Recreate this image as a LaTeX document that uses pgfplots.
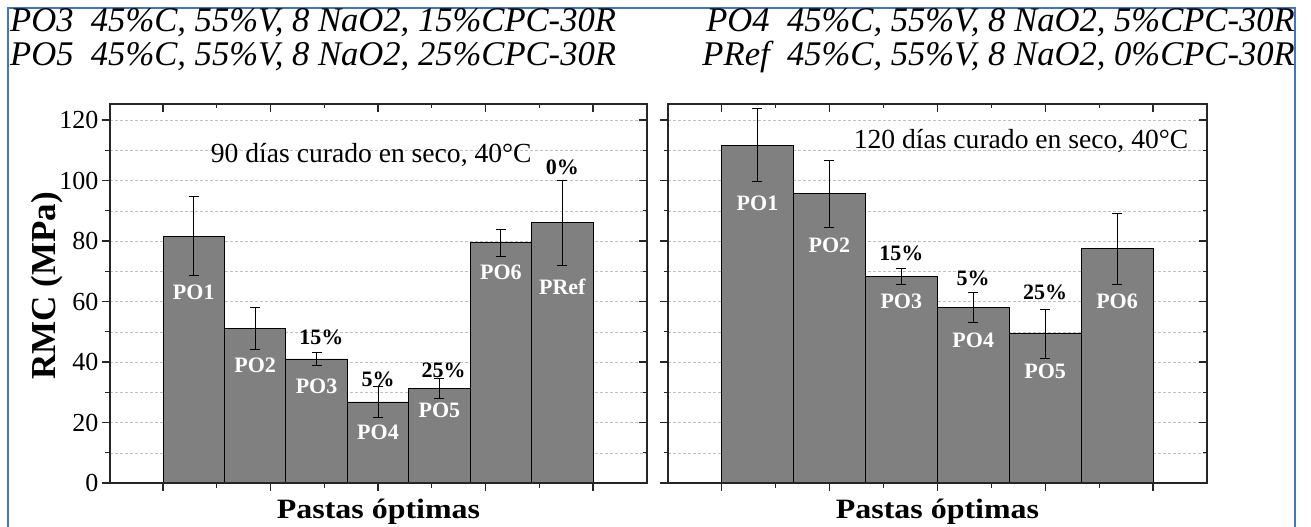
\documentclass[border=0pt]{standalone}
\usepackage{pgfplots}
\pgfplotsset{compat=1.18}
\usepackage{pgfplotstable}
\usepackage{fontspec}
\setmainfont{Liberation Serif}[
  ItalicFont={Liberation Serif Italic},
  BoldFont={Liberation Serif Bold}]

\definecolor{barfill}{HTML}{808080}
\definecolor{frameblue}{HTML}{4472C4}

% RMC (MPa), mean and standard deviation
\pgfplotstableread{
x  y     e
1  81.6  13.0
2  51.1  7.0
3  41.0  2.2
4  26.8  5.0
5  31.3  3.4
6  79.4  4.4
7  86.0  13.9
}\dianoventa

\pgfplotstableread{
x  y      e
1  111.7  12.0
2  95.7   11.1
3  68.4   2.6
4  58.0   4.9
5  49.3   8.0
6  77.5   11.7
}\diaciento

\pgfplotsset{
  panel/.style={
    scale only axis, height=379pt,
    ymin=0, ymax=125.3,
    ytick={0,20,...,120}, minor y tick num=1,
    axis line style={line width=1.1pt, black!85},
    every tick/.style={line width=1.1pt, black!85},
    major tick length=8pt, minor tick length=4.5pt,
    xticklabels={},
    tick label style={font=\fontsize{26}{28}\selectfont},
    /pgf/number format/assume math mode=true,
  },
  front/.style={
    panel,
    ymajorgrids, yminorgrids,
    major grid style={densely dashed, gray!50, line width=0.5pt},
    minor grid style={densely dashed, gray!50, line width=0.5pt},
    tick align=outside, xtick pos=left, ytick pos=left,
    xlabel={\scalebox{1.14}[1]{Pastas óptimas}},
    xlabel style={font=\fontsize{28}{30}\selectfont\bfseries,
      at={(axis description cs:0.5,0)}, anchor=base, yshift=-36pt},
  },
  mirror/.style={
    panel,
    tick align=inside, xtick pos=right, ytick pos=right,
    yticklabels={},
  },
  barras/.style={
    ybar, bar width=1, fill=barfill, draw=black, line width=0.8pt,
    error bars/.cd, y dir=both, y explicit,
    error bar style={line width=0.8pt, black},
    error mark options={rotate=90, mark size=5pt, line width=0.8pt, black},
  },
}
\tikzset{
  nombre/.style={font=\fontsize{22}{24}\selectfont\bfseries, text=white},
  pct/.style={font=\fontsize{22}{24}\selectfont\bfseries, text=black},
  leyenda/.style={inner sep=0pt, font=\fontsize{34.6}{40}\selectfont\itshape},
}

\begin{document}
\begin{tikzpicture}
\useasboundingbox (0,0) rectangle (1311pt,527pt);

\draw[frameblue, line width=2pt] (8pt,0pt) -- (8pt,519pt) -- (1295pt,519pt) -- (1295pt,0pt);

\node[leyenda, anchor=base west] at (10pt,495pt) {PO3\ \ 45\%C, 55\%V, 8 NaO2, 15\%CPC-30R};
\node[leyenda, anchor=base west] at (10pt,461pt) {PO5\ \ 45\%C, 55\%V, 8 NaO2, 25\%CPC-30R};
\node[leyenda, anchor=base east] at (1295pt,495pt) {PO4\ \ 45\%C, 55\%V, 8 NaO2, 5\%CPC-30R};
\node[leyenda, anchor=base east] at (1295pt,461pt) {PRef\ \ 45\%C, 55\%V, 8 NaO2, 0\%CPC-30R};

% 90 days
\begin{axis}[front, width=537pt, at={(110pt,44pt)}, anchor=south west,
  xmin=-0.363, xmax=8.379,
  xtick={0.5,2.25,4,5.75,7.5}, minor xtick={1.375,3.125,4.875,6.625},
  ylabel={RMC (MPa)},
  ylabel style={font=\fontsize{35}{38}\selectfont\bfseries, at={(axis description cs:-0.1024,0.52)}, anchor=base},
]
\addplot[barras] table[x=x, y=y, y error=e]{\dianoventa};
\node[anchor=base, font=\fontsize{27.6}{30}\selectfont] at (axis cs:3.89,106) {90 días curado en seco, 40°C};
\node[nombre] at (axis cs:1,63.2) {PO1};
\node[nombre] at (axis cs:2,38.8) {PO2};
\node[nombre] at (axis cs:3,32.0) {PO3};
\node[nombre] at (axis cs:4,16.6) {PO4};
\node[nombre] at (axis cs:5,24.1) {PO5};
\node[nombre] at (axis cs:6,69.5) {PO6};
\node[nombre] at (axis cs:7,64.9) {PRef};
\node[pct] at (axis cs:3.08,48.0) {15\%};
\node[pct] at (axis cs:4,34.3) {5\%};
\node[pct] at (axis cs:5.07,37.4) {25\%};
\node[pct] at (axis cs:7,104.3) {0\%};
\end{axis}
\begin{axis}[mirror, width=537pt, at={(110pt,44pt)}, anchor=south west,
  xmin=-0.363, xmax=8.379,
  xtick={0.5,2.25,4,5.75,7.5}, minor xtick={1.375,3.125,4.875,6.625},
]
\end{axis}

% 120 days
\begin{axis}[front, width=539pt, at={(668pt,44pt)}, anchor=south west,
  xmin=-0.244, xmax=7.251,
  xtick={0.5,2,3.5,5,6.5}, minor xtick={1.25,2.75,4.25,5.75},
  yticklabels={},
]
\addplot[barras] table[x=x, y=y, y error=e]{\diaciento};
\node[anchor=base east, font=\fontsize{27.6}{30}\selectfont] at (axis cs:7.04,110.7) {120 días curado en seco, 40°C};
\node[nombre] at (axis cs:1,92.4) {PO1};
\node[nombre] at (axis cs:2,78.7) {PO2};
\node[nombre] at (axis cs:3,60.1) {PO3};
\node[nombre] at (axis cs:4,47.3) {PO4};
\node[nombre] at (axis cs:5,37.0) {PO5};
\node[nombre] at (axis cs:6,60.2) {PO6};
\node[pct] at (axis cs:3,75.9) {15\%};
\node[pct] at (axis cs:4,67.8) {5\%};
\node[pct] at (axis cs:5,63.0) {25\%};
\end{axis}
\begin{axis}[mirror, width=539pt, at={(668pt,44pt)}, anchor=south west,
  xmin=-0.244, xmax=7.251,
  xtick={0.5,2,3.5,5,6.5}, minor xtick={1.25,2.75,4.25,5.75},
]
\end{axis}
\end{tikzpicture}
\end{document}
